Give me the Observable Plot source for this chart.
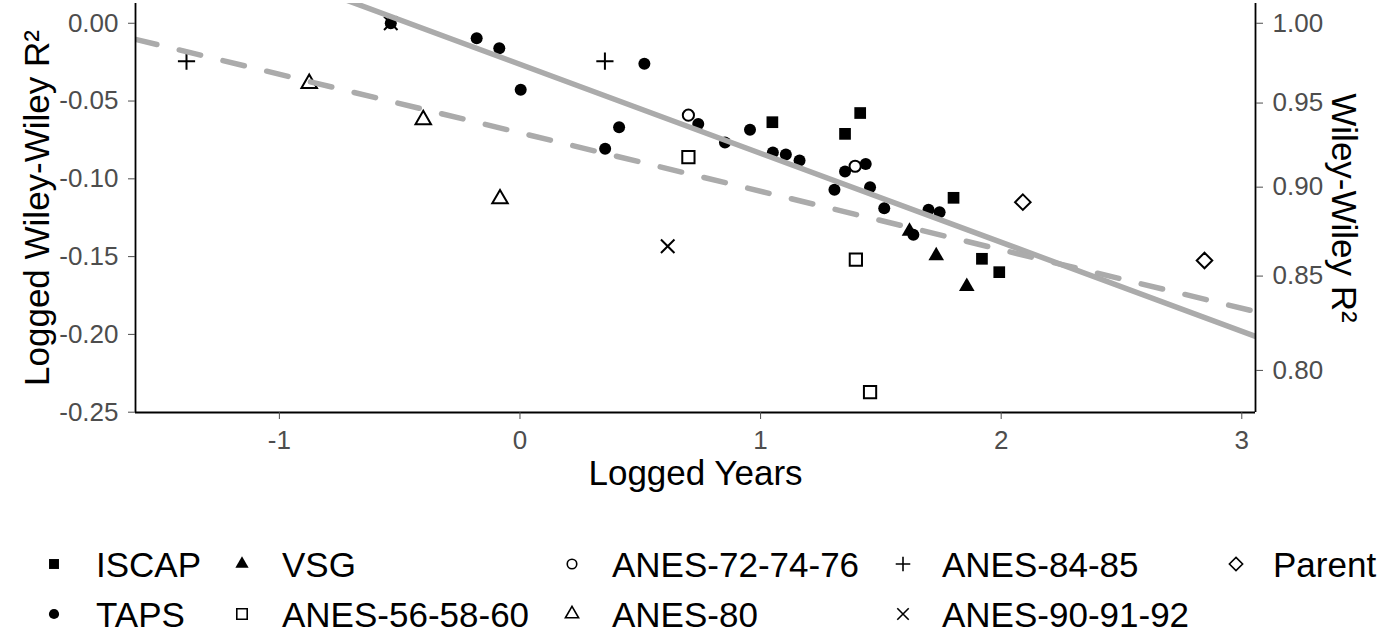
<!DOCTYPE html>
<html><head><meta charset="utf-8">
<script src="https://cdn.jsdelivr.net/npm/d3@7"></script>
<script src="https://cdn.jsdelivr.net/npm/@observablehq/plot@0.6"></script>
<style>
body{margin:0;background:#fff;font-family:"Liberation Sans",Arial,sans-serif;}
#chart svg{display:block}
#legend{position:relative;width:1381px;height:132px;}
.item{position:absolute;display:flex;align-items:center;font-size:35px;line-height:1;color:#000;white-space:nowrap;height:36px}
.item svg{position:absolute;overflow:visible}
</style></head><body>
<div id="chart"></div><div id="legend"></div>
<script>
// ---- data (logged years, logged Wiley-Wiley R^2) ----
const ISCAP = [[1.049,-0.0636],[1.351,-0.0711],[1.414,-0.0577],[1.802,-0.1122],[1.920,-0.1514],[1.992,-0.1600]];
const TAPS = [[-0.537,0.0],[-0.180,-0.0096],[-0.086,-0.0160],[0.003,-0.0428],[0.354,-0.0807],[0.412,-0.0668],
  [0.517,-0.0261],[0.741,-0.0647],[0.852,-0.0767],[0.956,-0.0685],[1.051,-0.0831],[1.105,-0.0844],[1.162,-0.0882],
  [1.307,-0.1070],[1.351,-0.0953],[1.437,-0.0904],[1.455,-0.1054],[1.514,-0.1189],[1.635,-0.1360],[1.698,-0.1199],[1.744,-0.1215]];
const VSG = [[1.619,-0.1337],[1.730,-0.1495],[1.857,-0.1692]];
const ANES_56_58_60 = [[0.700,-0.0861],[1.396,-0.1519],[1.455,-0.2371]];
const ANES_72_74_76 = [[0.700,-0.0591],[1.393,-0.0919]];
const ANES_80 = [[-0.876,-0.0387],[-0.402,-0.0620],[-0.083,-0.1129]];
const ANES_84_85 = [[-1.386,-0.0244],[0.353,-0.0244]];
const ANES_90_91_92 = [[-0.537,0.0],[0.614,-0.1433]];
const Parent = [[2.090,-0.1150],[2.845,-0.1525]];

const seriesNames = ["ISCAP","TAPS","VSG","ANES-56-58-60","ANES-72-74-76","ANES-80","ANES-84-85","ANES-90-91-92","Parent"];
const seriesData = [ISCAP,TAPS,VSG,ANES_56_58_60,ANES_72_74_76,ANES_80,ANES_84_85,ANES_90_91_92,Parent];

// fitted lines: intercept and slope
const fitIntercepts = [-0.0264, -0.0704];
const fitSlopes = [-0.0572, -0.0376];

const xTicks = [-1,0,1,2,3];
const yTicks = [0,-0.05,-0.10,-0.15,-0.20,-0.25];
const rightTicks = [0.80,0.85,0.90,0.95,1.00];

// ---- styles ----
const styles = {
  "ISCAP":{symbol:"square",fill:"black",stroke:"none",r:6.6},
  "TAPS":{symbol:"circle",fill:"black",stroke:"none",r:6},
  "VSG":{symbol:"triangle",fill:"black",stroke:"none",r:5.8},
  "ANES-56-58-60":{symbol:"square2",fill:"white",stroke:"black",r:7.8},
  "ANES-72-74-76":{symbol:"circle",fill:"white",stroke:"black",r:5.6},
  "ANES-80":{symbol:"triangle2",fill:"white",stroke:"black",r:7.4},
  "ANES-84-85":{symbol:"plus",fill:"none",stroke:"black",r:5.6},
  "ANES-90-91-92":{symbol:"times",fill:"none",stroke:"black",r:6.2},
  "Parent":{symbol:"diamond2",fill:"white",stroke:"black",r:7}
};
const xDomain = [-1.598, 3.057];
const yDomain = [-0.2502, 0.0127];
const FONT = "Liberation Sans, Arial, sans-serif";
const grey = "#ababab";

const fitLines = fitIntercepts.map((a,i)=>xDomain.map(x=>({x, y:a+fitSlopes[i]*x})));

const dotMarks = seriesNames.map((n,i)=>{
  const s = styles[n];
  return Plot.dot(seriesData[i], {x:d=>d[0], y:d=>d[1], symbol:s.symbol, r:s.r, fill:s.fill, stroke:s.stroke, strokeWidth:2});
});

const plot = Plot.plot({
  width:1381, height:500,
  marginLeft:135, marginRight:126, marginTop:3, marginBottom:88,
  style:{fontFamily:FONT, fontSize:"26px", background:"white", color:"black"},
  x:{domain:xDomain},
  y:{domain:yDomain},
  marks:[
    ...dotMarks,
    Plot.line(fitLines[0], {x:"x", y:"y", stroke:grey, strokeWidth:5.5, clip:true}),
    Plot.line(fitLines[1], {x:"x", y:"y", stroke:grey, strokeWidth:5.5, strokeDasharray:"22,23", clip:true}),
    Plot.ruleX(xDomain, {stroke:"black", strokeWidth:1.8}),
    Plot.ruleY([yDomain[0]], {stroke:"black", strokeWidth:1.8}),
    Plot.axisX(xTicks, {anchor:"bottom", tickSize:7, tickPadding:11, fontSize:26, tickFormat:d=>String(d), label:null, color:"#4d4d4d"}),
    Plot.axisY(yTicks, {anchor:"left", tickSize:7, tickPadding:10, fontSize:26, tickFormat:d=>d.toFixed(2), label:null, color:"#4d4d4d"}),
    Plot.axisY(rightTicks.map(Math.log), {anchor:"right", tickSize:7, tickPadding:10, fontSize:26, tickFormat:d=>Math.exp(d).toFixed(2), label:null, color:"#4d4d4d"}),
    Plot.text(["Logged Years"], {frameAnchor:"bottom", dy:72, text:d=>d, fontSize:35, fill:"black", textAnchor:"middle"}),
    Plot.text(["Logged Wiley-Wiley R²"], {frameAnchor:"left", dx:-98, rotate:-90, text:d=>d, fontSize:35, fill:"black", textAnchor:"middle"}),
    Plot.text(["Wiley-Wiley R²"], {frameAnchor:"right", dx:88, rotate:90, text:d=>d, fontSize:35, fill:"black", textAnchor:"middle"})
  ]
});
document.getElementById("chart").appendChild(plot);

// ---- legend (two rows, column-major like ggplot) ----
const d3types = {square:d3.symbolSquare, circle:d3.symbolCircle, triangle:d3.symbolTriangle, square2:d3.symbolSquare2,
  triangle2:d3.symbolTriangle2, plus:d3.symbolPlus, times:d3.symbolTimes, diamond2:d3.symbolDiamond2};
const legendCols = [{sx:54,tx:96},{sx:242,tx:282},{sx:572,tx:612},{sx:903,tx:942},{sx:1236,tx:1273}];
const legendRows = [64,114];
const legend = document.getElementById("legend");
seriesNames.forEach((n,i)=>{
  const col = legendCols[Math.floor(i/2)], rowY = legendRows[i%2];
  const s = styles[n];
  const item = document.createElement("div");
  item.className = "item";
  item.style.left = col.tx + "px";
  item.style.top = (rowY - 18) + "px";
  const span = document.createElement("span");
  span.textContent = n;
  item.appendChild(span);
  legend.appendChild(item);
  const svg = d3.create("svg").attr("width",1).attr("height",1)
    .style("left",(col.sx - col.tx)+"px").style("top","18px");
  svg.append("path").attr("d", d3.symbol(d3types[s.symbol], Math.PI*Math.pow(s.r*0.85,2))())
    .attr("fill", s.fill).attr("stroke", s.stroke).attr("stroke-width", 1.6);
  item.appendChild(svg.node());
});
</script>
</body></html>
